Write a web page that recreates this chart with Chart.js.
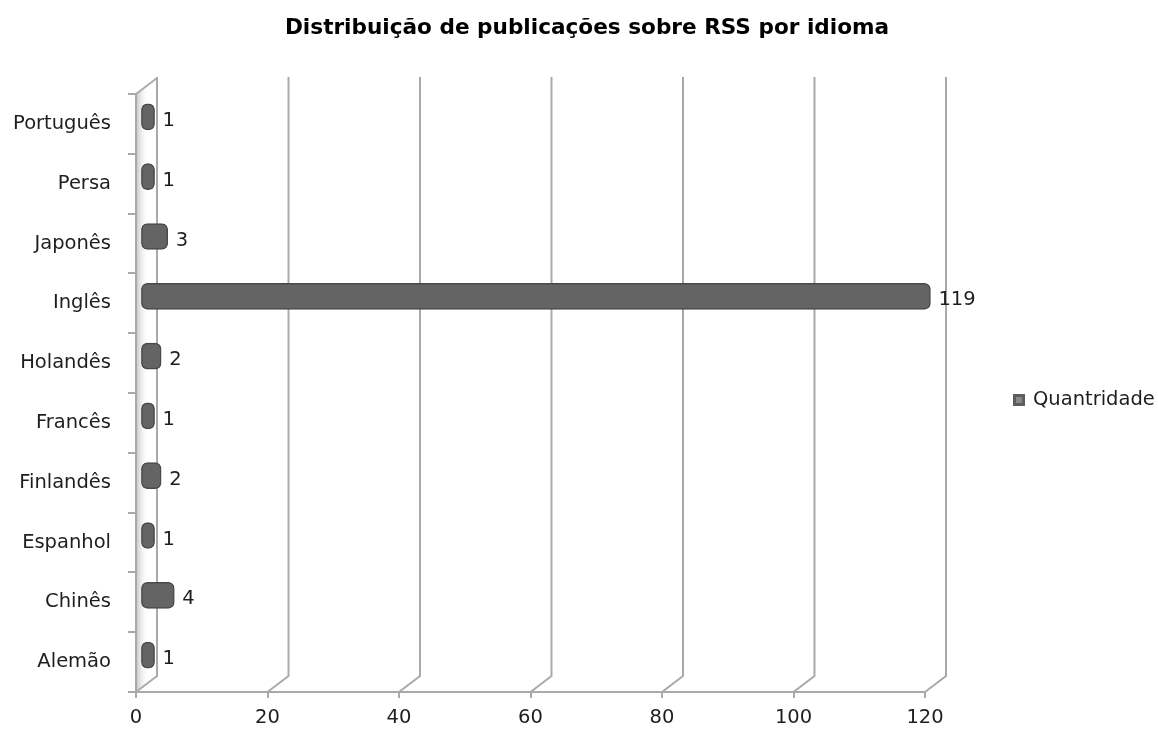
<!DOCTYPE html>
<html>
<head>
<meta charset="utf-8">
<script src="https://cdn.jsdelivr.net/npm/chart.js@4.4.1/dist/chart.umd.min.js"></script>
<style>
  html, body { margin: 0; padding: 0; background: #ffffff; }
  #wrap { width: 1158px; height: 731px; }
</style>
</head>
<body>
<div id="wrap"><canvas id="c" width="1158" height="731"></canvas></div>
<script>
const chartTitle = 'Distribuição de publicações sobre RSS por idioma';
const seriesName = 'Quantridade';
const categories = ['Português', 'Persa', 'Japonês', 'Inglês', 'Holandês', 'Francês', 'Finlandês', 'Espanhol', 'Chinês', 'Alemão'];
const quantidade = [1, 1, 3, 119, 2, 1, 2, 1, 4, 1];
const xMin = 0, xMax = 120, xStep = 20;

const FONT = 'DejaVu Sans';
const FSIZE = 19.5;
const TEXT = '#1e1e1e';
const GRID = '#a9a9a9';
const DEPTH_X = 21, DEPTH_Y = -16;     // 3D depth of the back wall
const BAR_DX = 12, BAR_DY = -7;        // bars sit mid-depth

const frame3d = {
  id: 'frame3d',
  beforeDraw(chart) {
    const { ctx, chartArea: a, scales: { x } } = chart;
    ctx.save();
    // title, centred on the whole picture
    ctx.font = 'bold 21.6px "' + FONT + '"';
    ctx.fillStyle = '#000000';
    ctx.textAlign = 'center';
    ctx.textBaseline = 'middle';
    ctx.fillText(chartTitle, 587, 28);

    // side wall shading
    const g = ctx.createLinearGradient(a.left, 0, a.left + DEPTH_X, 0);
    g.addColorStop(0, 'rgba(190,190,190,0.9)');
    g.addColorStop(0.6, 'rgba(255,255,255,0)');
    ctx.fillStyle = g;
    ctx.beginPath();
    ctx.moveTo(a.left, a.top);
    ctx.lineTo(a.left + DEPTH_X, a.top + DEPTH_Y);
    ctx.lineTo(a.left + DEPTH_X, a.bottom + DEPTH_Y);
    ctx.lineTo(a.left, a.bottom);
    ctx.closePath();
    ctx.fill();

    ctx.strokeStyle = GRID;
    ctx.lineWidth = 2;
    for (let v = xMin; v <= xMax; v += xStep) {
      const px = x.getPixelForValue(v);
      ctx.beginPath();
      ctx.moveTo(px, a.bottom);
      ctx.lineTo(px + DEPTH_X, a.bottom + DEPTH_Y);
      ctx.lineTo(px + DEPTH_X, a.top + DEPTH_Y - 1);
      ctx.stroke();
    }
    // top edge of the side wall
    ctx.beginPath();
    ctx.moveTo(a.left, a.top);
    ctx.lineTo(a.left + DEPTH_X, a.top + DEPTH_Y);
    ctx.stroke();
    ctx.restore();
  },
  beforeDatasetsDraw(chart) {
    chart.ctx.save();
    chart.ctx.translate(BAR_DX, BAR_DY);
  },
  afterDatasetsDraw(chart) {
    const { ctx } = chart;
    ctx.restore();
    const meta = chart.getDatasetMeta(0);
    ctx.save();
    ctx.font = FSIZE + 'px "' + FONT + '"';
    ctx.fillStyle = TEXT;
    ctx.textAlign = 'left';
    ctx.textBaseline = 'middle';
    meta.data.forEach((bar, i) => {
      ctx.fillText(String(chart.data.datasets[0].data[i]), bar.x + BAR_DX + 8, bar.y + BAR_DY + 4);
    });
    ctx.restore();
  },
  afterDraw(chart) {
    const { ctx, chartArea: a } = chart;
    const cy = (a.top + a.bottom) / 2 + 7;
    ctx.save();
    ctx.fillStyle = '#5e5e5e';
    ctx.fillRect(1013, cy - 6, 12, 12);
    ctx.fillStyle = '#8a8a8a';
    ctx.fillRect(1016, cy - 3, 6, 6);
    ctx.font = FSIZE + 'px "' + FONT + '"';
    ctx.fillStyle = TEXT;
    ctx.textAlign = 'left';
    ctx.textBaseline = 'middle';
    ctx.fillText(chart.data.datasets[0].label, 1033, cy);
    ctx.restore();
  }
};

new Chart(document.getElementById('c'), {
  type: 'bar',
  data: {
    labels: categories,
    datasets: [{
      label: seriesName,
      data: quantidade,
      base: -1,
      clip: false,
      backgroundColor: '#646464',
      borderColor: '#4a4a4a',
      borderWidth: 1.5,
      borderRadius: 6,
      borderSkipped: false,
      barThickness: 26
    }]
  },
  options: {
    indexAxis: 'y',
    responsive: false,
    animation: false,
    devicePixelRatio: 1,
    layout: { padding: { left: 0, right: 233, top: 94, bottom: 0 } },
    plugins: {
      legend: { display: false },
      tooltip: { enabled: false },
      title: { display: false }
    },
    scales: {
      x: {
        type: 'linear',
        min: xMin, max: xMax,
        ticks: { stepSize: xStep, color: TEXT, font: { family: FONT, size: FSIZE }, padding: 8 },
        grid: { drawOnChartArea: false, drawTicks: true, tickLength: 6, color: GRID, lineWidth: 2 },
        border: { display: true, color: GRID, width: 2 },
        afterFit(s) { s.height = 39; }
      },
      y: {
        ticks: { color: TEXT, font: { family: FONT, size: FSIZE }, padding: 17 },
        grid: { drawOnChartArea: false, drawTicks: true, tickLength: 8, color: GRID, lineWidth: 2, offset: true },
        border: { display: true, color: GRID, width: 2 },
        afterFit(s) { s.width = 136; }
      }
    }
  },
  plugins: [frame3d]
});
</script>
</body>
</html>
